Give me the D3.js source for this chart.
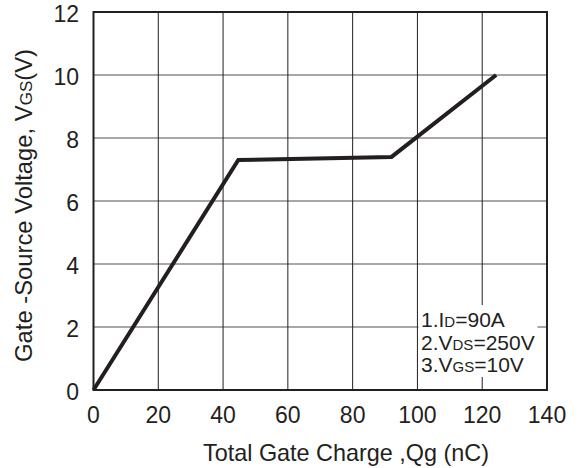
<!DOCTYPE html>
<html>
<head>
<meta charset="utf-8">
<script src="https://cdn.jsdelivr.net/npm/d3@7"></script>
<style>
  body { margin: 0; background: #fff; }
  text { font-family: "Liberation Sans", Arial, sans-serif; fill: #231f20; }
</style>
</head>
<body>
<div id="chart"></div>
<script>
// gate charge curve points
var qg = [0, 44.7, 92, 124.3];
var vgs = [0, 7.3, 7.4, 10];
var xTicks = [0, 20, 40, 60, 80, 100, 120, 140];
var yTicks = [0, 2, 4, 6, 8, 10, 12];

var width = 581, height = 468;
var margin = { top: 12, right: 34, bottom: 78, left: 93.5 };

var svg = d3.select("#chart").append("svg")
    .attr("width", width)
    .attr("height", height);

var x = d3.scaleLinear().domain([0, 140]).range([margin.left, width - margin.right]);
var y = d3.scaleLinear().domain([0, 12]).range([height - margin.bottom, margin.top]);

// horizontal grid (gray)
svg.selectAll(".hgrid")
    .data(yTicks.slice(1, -1))
    .enter().append("line")
    .attr("x1", x(0)).attr("x2", x(140))
    .attr("y1", function (d) { return y(d); })
    .attr("y2", function (d) { return y(d); })
    .attr("stroke", "#8a8a8a")
    .attr("stroke-width", 1.5);

// vertical grid (dark)
svg.selectAll(".vgrid")
    .data(xTicks.slice(1, -1))
    .enter().append("line")
    .attr("y1", y(0)).attr("y2", y(12))
    .attr("x1", function (d) { return x(d); })
    .attr("x2", function (d) { return x(d); })
    .attr("stroke", "#231f20")
    .attr("stroke-width", 1);

// the curve
var line = d3.line()
    .x(function (d, i) { return x(qg[i]); })
    .y(function (d) { return y(d); });

svg.append("path")
    .datum(vgs)
    .attr("d", line)
    .attr("fill", "none")
    .attr("stroke", "#231f20")
    .attr("stroke-width", 4)
    .attr("stroke-linejoin", "miter");

// legend, white behind the text only
svg.append("rect")
    .attr("x", x(100) + 1)
    .attr("y", 305)
    .attr("width", 119)
    .attr("height", 72)
    .attr("fill", "#fff");

var legend = [["1.I", "D", "=90A"], ["2.V", "DS", "=250V"], ["3.V", "GS", "=10V"]];
legend.forEach(function (l, i) {
    var t = svg.append("text")
        .attr("x", 421)
        .attr("y", 327 + i * 22.5)
        .attr("font-size", 21);
    t.append("tspan").text(l[0]);
    t.append("tspan").attr("font-size", 15).text(l[1]);
    t.append("tspan").text(l[2]);
});

// frame
svg.append("rect")
    .attr("x", x(0)).attr("y", y(12))
    .attr("width", x(140) - x(0))
    .attr("height", y(0) - y(12))
    .attr("fill", "none")
    .attr("stroke", "#231f20")
    .attr("stroke-width", 2);

// tick labels
svg.selectAll(".xlab")
    .data(xTicks)
    .enter().append("text")
    .attr("x", function (d) { return x(d); })
    .attr("y", 423)
    .attr("text-anchor", "middle")
    .attr("font-size", 23)
    .text(function (d) { return d; });

svg.selectAll(".ylab")
    .data(yTicks)
    .enter().append("text")
    .attr("x", 79)
    .attr("y", function (d) { return y(d) + 10; })
    .attr("text-anchor", "end")
    .attr("font-size", 23)
    .text(function (d) { return d; });

// axis titles
svg.append("text")
    .attr("x", 346)
    .attr("y", 461)
    .attr("text-anchor", "middle")
    .attr("font-size", 23.4)
    .text("Total Gate Charge ,Qg (nC)");

var yt = svg.append("text")
    .attr("transform", "translate(32," + 205.5 + ") rotate(-90)")
    .attr("text-anchor", "middle")
    .attr("font-size", 23.8);
yt.append("tspan").text("Gate -Source Voltage, V");
yt.append("tspan").attr("font-size", 17).text("GS");
yt.append("tspan").text("(V)");
</script>
</body>
</html>
